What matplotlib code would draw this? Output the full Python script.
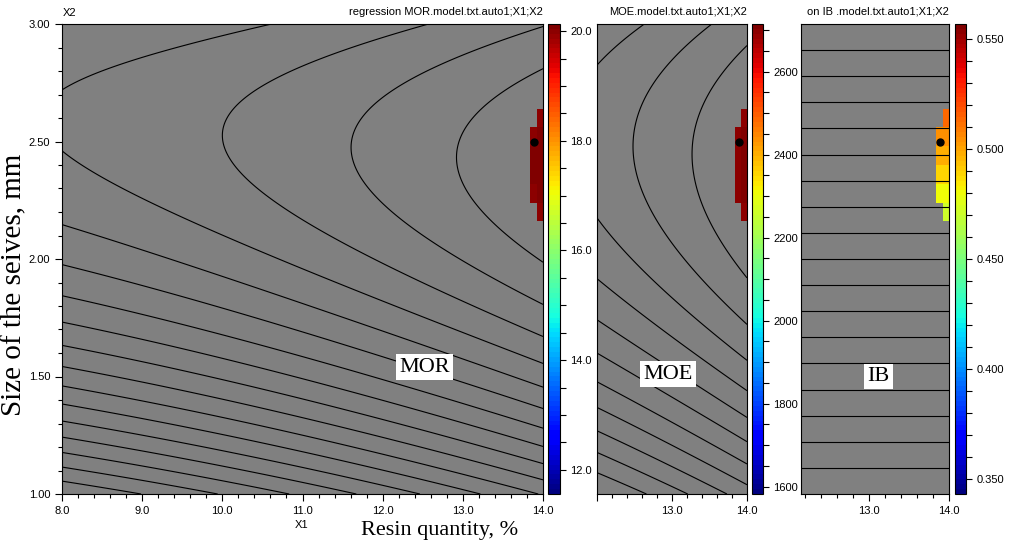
import numpy as np
import matplotlib
matplotlib.use('Agg')
import matplotlib.pyplot as plt
from matplotlib.colors import Normalize
from matplotlib.cm import ScalarMappable
from matplotlib.ticker import MultipleLocator, FormatStrFormatter

plt.rcParams['font.family'] = 'Liberation Sans'

# fitted response surfaces
mor_x1 = [18.27, 0.171, 0.0224]      # polynomial in (X1 - 8)
mor_curv = 2.645                     # drop per (X2 - ridge)^2
mor_ridge = [2.59, -0.032]           # ridge X2 = a + b*(X1 - 8)
mor_range = [11.56, 20.13]

moe_x1 = [2474.2, 103.8, 9.25]       # polynomial in (X1 - 12)
moe_curv = 401.8
moe_ridge = [2.50, -0.043]           # ridge X2 = a + b*(X1 - 12)
moe_range = [1582, 2715]

ib_coef = [0.343, 0.107]             # IB = a + b*(X2 - 1)
ib_range = [0.343, 0.557]

n_levels = [19, 13, 19]
moe_limit = 2693                     # feasible region of the optimisation
opt_point = [13.89, 2.50]

x1_lims = [(8.0, 14.0), (12.0, 14.0), (12.15, 14.0)]
titles = ["regression MOR.model.txt.auto1;X1;X2",
          "MOE.model.txt.auto1;X1;X2",
          "on IB .model.txt.auto1;X1;X2"]
names = ["MOR", "MOE", "IB"]
name_pos = [(12.52, 1.54), (12.95, 1.51), (13.12, 1.50)]


def mor(x1, x2):
    u = x1 - 8
    r = mor_ridge[0] + mor_ridge[1] * u
    return mor_x1[0] + mor_x1[1] * u + mor_x1[2] * u ** 2 - mor_curv * (x2 - r) ** 2


def moe(x1, x2):
    v = x1 - 12
    r = moe_ridge[0] + moe_ridge[1] * v
    return moe_x1[0] + moe_x1[1] * v + moe_x1[2] * v ** 2 - moe_curv * (x2 - r) ** 2


def ib(x1, x2):
    return ib_coef[0] + ib_coef[1] * (x2 - 1) + 0 * x1


funcs = [mor, moe, ib]
ranges = [mor_range, moe_range, ib_range]
cb_major = [2.0, 200, 0.05]
cb_minor = [0.5, 50, 0.01]
cb_fmt = ['%.1f', '%d', '%.3f']

fig = plt.figure(figsize=(10.09, 5.45), dpi=100)
W, H = 1009, 545
ax_px = [(62, 543), (597, 747), (801, 949)]
cb_px = [(548, 560), (752, 763), (955, 966)]
top, bot = 24, 494

cmap = plt.get_cmap('jet', 96)

# coarse grid of the optimiser (cells of 0.08 x 0.08)
x_edges = np.linspace(8, 14, 76)
y_edges = np.linspace(0.96, 3.04, 27)
cx = (x_edges[:-1] + x_edges[1:]) / 2
cy = (y_edges[:-1] + y_edges[1:]) / 2
CX, CY = np.meshgrid(cx, cy)
feasible = moe(CX, CY) >= moe_limit

for i in range(3):
    l, r = ax_px[i]
    ax = fig.add_axes([l / W, (H - bot) / H, (r - l) / W, (bot - top) / H])
    ax.set_facecolor('#808080')
    f = funcs[i]
    lo, hi = ranges[i]
    norm = Normalize(lo, hi)

    gx = np.linspace(x1_lims[i][0], x1_lims[i][1], 300)
    gy = np.linspace(1, 3, 240)
    GX, GY = np.meshgrid(gx, gy)
    Z = f(GX, GY)
    levels = np.linspace(lo, hi, n_levels[i])[1:-1]
    ax.contour(GX, GY, Z, levels=levels, colors='black', linewidths=0.8)

    Zc = np.ma.masked_where(~feasible, f(CX, CY))
    ax.pcolormesh(x_edges, y_edges, Zc, cmap=cmap, norm=norm, shading='flat')
    ax.plot(opt_point[0], opt_point[1], 'o', color='black', markersize=5)

    ax.set_xlim(*x1_lims[i])
    ax.set_ylim(1, 3)
    ax.xaxis.set_major_locator(MultipleLocator(1))
    ax.xaxis.set_minor_locator(MultipleLocator(0.2))
    ax.xaxis.set_major_formatter(FormatStrFormatter('%.1f'))
    ax.tick_params(direction='out', length=5, width=0.8, labelsize=8)
    ax.tick_params(which='minor', direction='out', length=3, width=0.8)
    if i == 0:
        ax.yaxis.set_major_locator(MultipleLocator(0.5))
        ax.yaxis.set_minor_locator(MultipleLocator(0.1))
        ax.yaxis.set_major_formatter(FormatStrFormatter('%.2f'))
    else:
        ax.tick_params(axis='y', which='both', left=False, labelleft=False)
    if i == 1:
        ax.set_xticks([12, 13, 14], ['', '13.0', '14.0'])
    for s in ax.spines.values():
        s.set_linewidth(0.8)

    ax.text(name_pos[i][0], name_pos[i][1], names[i], ha='center', va='center',
            family='Liberation Serif', fontsize=16,
            bbox=dict(boxstyle='square,pad=0.15', facecolor='white', edgecolor='none'))
    fig.text(r / W, (H - 12) / H, titles[i], ha='right', va='center', fontsize=8)

    cl, cr = cb_px[i]
    cax = fig.add_axes([cl / W, (H - bot) / H, (cr - cl) / W, (bot - top) / H])
    cb = fig.colorbar(ScalarMappable(norm=norm, cmap=cmap), cax=cax)
    cb.outline.set_linewidth(0.8)
    cb.ax.yaxis.set_major_locator(MultipleLocator(cb_major[i]))
    cb.ax.yaxis.set_minor_locator(MultipleLocator(cb_minor[i]))
    cb.ax.yaxis.set_major_formatter(FormatStrFormatter(cb_fmt[i]))
    cb.ax.tick_params(direction='out', length=4, width=0.8, labelsize=8)
    cb.ax.tick_params(which='minor', length=4, width=0.8)

fig.text(70 / W, (H - 13) / H, "X2", ha='center', va='center', fontsize=8)
fig.text(302 / W, (H - 525) / H, "X1", ha='center', va='center', fontsize=8)
fig.text(440 / W, (H - 530) / H, "Resin quantity, %", ha='center', va='center',
         family='Liberation Serif', fontsize=16)
fig.text(14 / W, (H - 285) / H, "Size of the seives, mm", ha='center', va='center',
         rotation=90, family='Liberation Serif', fontsize=21)

fig.savefig('out.png', dpi=100)
